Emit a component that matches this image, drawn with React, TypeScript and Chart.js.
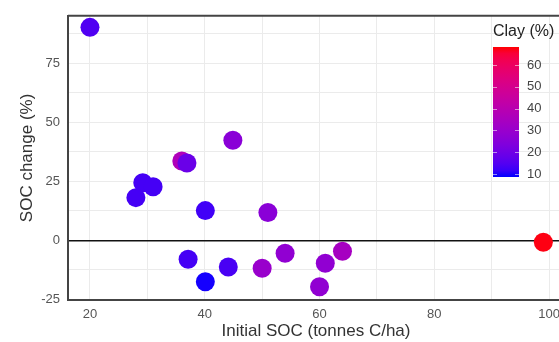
import React, { useEffect, useRef } from "react";
import { Chart, registerables } from "chart.js";

Chart.register(...registerables);

const initialSOC = [20, 36.0, 36.9, 44.9, 29.2, 31.0, 28.0, 40.1, 51.0, 37.1, 40.1, 44.1, 50.0, 54.0, 61.0, 60.0, 64.0, 99.0];
const socChange = [90.3, 33.6, 32.8, 42.4, 24.4, 22.7, 18.1, 12.6, 11.8, -8.0, -17.6, -11.3, -11.8, -5.5, -9.7, -19.7, -4.6, -0.8];
const clay = [14.5, 37, 19, 26, 13, 13, 13, 12.5, 26, 13, 9, 13.5, 30, 28, 28, 28, 34, 68];
const clayTicks = [10, 20, 30, 40, 50, 60];
const CLAY_MIN = 8.6;
const CLAY_MAX = 68.3;

function clayColor(v: number): string {
  const t = Math.max(0, Math.min(1, (v - CLAY_MIN) / (CLAY_MAX - CLAY_MIN)));
  return `rgb(${Math.round(255 * Math.sqrt(t))},0,${Math.round(255 * Math.sqrt(1 - t))})`;
}

const FONT = "'Liberation Sans', Arial, sans-serif";

const overlay = {
  id: "overlay",
  afterDatasetsDraw(chart: any) {
    const { ctx, chartArea } = chart;
    ctx.save();
    ctx.strokeStyle = "#444";
    ctx.lineWidth = 2;
    ctx.beginPath();
    ctx.moveTo(chartArea.left, chartArea.top);
    ctx.lineTo(chartArea.right, chartArea.top);
    ctx.stroke();
    ctx.restore();
  },
  afterDraw(chart: any) {
    const { ctx } = chart;
    ctx.save();
    const x0 = 493, x1 = 519, yTop = 47, yBot = 177;
    const g = ctx.createLinearGradient(0, yBot, 0, yTop);
    for (let i = 0; i <= 20; i++) {
      const t = i / 20;
      g.addColorStop(t, clayColor(CLAY_MIN + t * (CLAY_MAX - CLAY_MIN)));
    }
    ctx.fillStyle = g;
    ctx.fillRect(x0, yTop, x1 - x0, yBot - yTop);
    const yOf = (v: number) => yBot - ((v - CLAY_MIN) / (CLAY_MAX - CLAY_MIN)) * (yBot - yTop);
    ctx.strokeStyle = "rgba(255,255,255,0.55)";
    ctx.lineWidth = 1;
    ctx.fillStyle = "#444";
    ctx.font = `13px ${FONT}`;
    ctx.textAlign = "left";
    ctx.textBaseline = "middle";
    clayTicks.forEach((v) => {
      const y = Math.round(yOf(v)) + 0.5;
      ctx.beginPath();
      ctx.moveTo(x0, y);
      ctx.lineTo(x0 + 4, y);
      ctx.moveTo(x1 - 4, y);
      ctx.lineTo(x1, y);
      ctx.stroke();
      ctx.fillText(String(v), 527, yOf(v));
    });
    ctx.fillStyle = "#222";
    ctx.font = `16px ${FONT}`;
    ctx.fillText("Clay (%)", 493, 32);
    ctx.restore();
  },
};

export default function App() {
  const ref = useRef<HTMLCanvasElement>(null);
  useEffect(() => {
    const data = initialSOC.map((x, i) => ({ x, y: socChange[i] }));
    const colors = clay.map(clayColor);
    const chart = new Chart(ref.current as HTMLCanvasElement, {
      type: "scatter",
      data: {
        datasets: [
          {
            data,
            backgroundColor: colors,
            borderColor: colors,
            borderWidth: 0,
            pointRadius: 9.5,
          },
        ],
      },
      plugins: [overlay],
      options: {
        animation: false,
        responsive: false,
        maintainAspectRatio: false,
        layout: { padding: { left: 0, right: 10, top: 14, bottom: 0 } },
        plugins: { legend: { display: false }, tooltip: { enabled: false } },
        scales: {
          x: {
            type: "linear",
            min: 16.17,
            max: 102.6,
            afterFit: (s: any) => { s.height = 42; },
            border: { color: "#444", width: 2 },
            grid: { color: "#ebebeb", lineWidth: 1, drawTicks: false },
            ticks: {
              stepSize: 10,
              includeBounds: false,
              padding: 7,
              color: "#555",
              font: { family: FONT, size: 13 },
              callback: (v: any) => (Number(v) % 20 === 0 ? String(v) : ""),
            },
            title: {
              display: true,
              text: "Initial SOC (tonnes C/ha)",
              color: "#333",
              font: { family: FONT, size: 17 },
              padding: { top: 0, bottom: 0 },
            },
          },
          y: {
            type: "linear",
            min: -25.3,
            max: 95.2,
            afterFit: (s: any) => { s.width = 68; },
            border: { color: "#444", width: 2 },
            grid: {
              color: (c: any) => (c.tick && c.tick.value === 0 ? "#111" : "#ebebeb"),
              lineWidth: (c: any) => (c.tick && c.tick.value === 0 ? 1.6 : 1),
              drawTicks: false,
            },
            ticks: {
              stepSize: 12.5,
              includeBounds: false,
              padding: 8,
              color: "#555",
              font: { family: FONT, size: 13 },
              callback: (v: any) => (Number(v) % 25 === 0 ? String(v) : ""),
            },
            title: {
              display: true,
              text: "SOC change (%)",
              color: "#333",
              font: { family: FONT, size: 17 },
              padding: { top: 17, bottom: 0 },
            },
          },
        },
      } as any,
    });
    return () => chart.destroy();
  }, []);
  return (
    <div style={{ position: "fixed", left: 0, top: 0, width: 559, height: 342, overflow: "hidden", background: "#fff" }}>
      <canvas ref={ref} width={574} height={342} style={{ width: 574, height: 342, display: "block" }} />
    </div>
  );
}
